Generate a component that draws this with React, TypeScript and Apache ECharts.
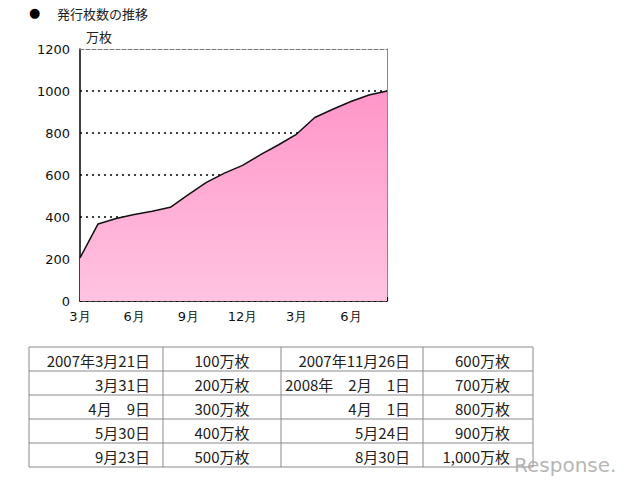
import React, { useEffect, useRef } from 'react';
import * as echarts from 'echarts';

// ---- chart data ----
const months = ['3月', '4月', '5月', '6月', '7月', '8月', '9月', '10月', '11月', '12月', '1月', '2月', '3月', '4月', '5月', '6月', '7月', '8月'];
const issued = [205, 367, 393, 412, 427, 446, 507, 565, 609, 646, 697, 744, 795, 874, 913, 950, 981, 1000];
const yMin = 0;
const yMax = 1200;
const yStep = 200;

// ---- table data ----
const leftDates = ['2007年3月21日', '3月31日', '4月　9日', '5月30日', '9月23日'];
const leftCounts = ['100万枚', '200万枚', '300万枚', '400万枚', '500万枚'];
const rightDates = ['2007年11月26日', '2008年　2月　1日', '4月　1日', '5月24日', '8月30日'];
const rightCounts = ['600万枚', '700万枚', '800万枚', '900万枚', '1,000万枚'];

const titleText = '発行枚数の推移';
const unitText = '万枚';

export default function App() {
  const ref = useRef<HTMLDivElement>(null);

  useEffect(() => {
    if (!ref.current) return;
    const chart = echarts.init(ref.current, undefined, { renderer: 'svg' });

    const tX = 29, tY = 347, rowH = 24, tRight = 533;
    const colX = [29, 163, 281, 423, 533];
    const lineStyle = { stroke: '#8a8a8a', lineWidth: 1 };
    const tableEls: any[] = [];
    for (let i = 0; i <= leftDates.length; i++) {
      tableEls.push({ type: 'line', shape: { x1: tX, y1: tY + i * rowH, x2: tRight, y2: tY + i * rowH }, style: lineStyle });
    }
    colX.forEach((x) => {
      tableEls.push({ type: 'line', shape: { x1: x, y1: tY, x2: x, y2: tY + leftDates.length * rowH }, style: lineStyle });
    });
    const tfont = { fontSize: 15, fontFamily: '"Noto Sans CJK JP", sans-serif', fill: '#222', verticalAlign: 'middle' };
    leftDates.forEach((d, i) => {
      const cy = tY + i * rowH + rowH / 2 + 1;
      tableEls.push({ type: 'text', x: 150, y: cy, style: { ...tfont, text: d, align: 'right' } });
      tableEls.push({ type: 'text', x: 222, y: cy, style: { ...tfont, text: leftCounts[i], align: 'center' } });
      tableEls.push({ type: 'text', x: 410, y: cy, style: { ...tfont, text: rightDates[i], align: 'right' } });
      tableEls.push({ type: 'text', x: 510, y: cy, style: { ...tfont, text: rightCounts[i], align: 'right' } });
    });

    chart.setOption({
      animation: false,
      backgroundColor: '#ffffff',
      grid: { left: 80, top: 49, width: 307, height: 252, containLabel: false },
      xAxis: [
        {
          type: 'category',
          data: months,
          boundaryGap: false,
          axisLine: { lineStyle: { color: '#000', width: 1.5 } },
          axisTick: { show: true, inside: true, length: 4, interval: 0, lineStyle: { color: '#000', width: 1.2 } },
          axisLabel: { interval: 2, color: '#111', fontSize: 13, margin: 9, fontFamily: '"DejaVu Sans", sans-serif' },
          splitLine: { show: false },
        },
        {
          type: 'category',
          data: months,
          boundaryGap: false,
          position: 'top',
          axisLine: { show: true, onZero: false, lineStyle: { color: '#777', width: 1, type: [4, 2] } },
          axisTick: { show: false },
          axisLabel: { show: false },
          splitLine: { show: false },
        },
      ],
      yAxis: [
        {
          type: 'value',
          min: yMin,
          max: yMax,
          interval: yStep,
          axisLine: { show: true, lineStyle: { color: '#000', width: 1.5 } },
          axisTick: { show: false },
          axisLabel: { color: '#111', fontSize: 13, margin: 10, fontFamily: '"DejaVu Sans", sans-serif', formatter: (v: number) => String(v) },
          splitLine: { show: true, showMaxLine: false, lineStyle: { color: '#000', width: 1.6, type: [2, 4] } },
        },
        {
          type: 'value',
          min: yMin,
          max: yMax,
          interval: yStep,
          position: 'right',
          axisLine: { show: true, onZero: false, lineStyle: { color: '#888', width: 1 } },
          axisTick: { show: false },
          axisLabel: { show: false },
          splitLine: { show: false },
        },
      ],
      series: [
        {
          type: 'line',
          data: issued,
          xAxisIndex: 0,
          yAxisIndex: 0,
          showSymbol: false,
          symbol: 'none',
          lineStyle: { color: '#111', width: 1.5 },
          areaStyle: {
            opacity: 1,
            color: new echarts.graphic.LinearGradient(0, 0, 0, 1, [
              { offset: 0, color: '#ff96c9' },
              { offset: 1, color: '#ffc3e0' },
            ]),
          },
        },
      ],
      graphic: [
        { type: 'text', x: 29, y: 12, style: { text: '●', fontSize: 13, fill: '#000', align: 'left', verticalAlign: 'middle', fontFamily: '"DejaVu Sans", sans-serif' } },
        { type: 'text', x: 57, y: 13, style: { text: titleText, fontSize: 13, fill: '#222', fontFamily: '"Noto Sans CJK JP", sans-serif', verticalAlign: 'middle' } },
        { type: 'text', x: 86, y: 36, style: { text: unitText, fontSize: 13, fill: '#222', fontFamily: '"Noto Sans CJK JP", sans-serif', verticalAlign: 'middle' } },
        ...tableEls,
        { type: 'text', x: 514, y: 465, z: 100, style: { text: 'Response.', fontSize: 20, fill: '#a8a8a8', opacity: 0.85, fontFamily: '"DejaVu Sans", sans-serif', verticalAlign: 'middle' } },
      ],
    });

    return () => chart.dispose();
  }, []);

  return <div ref={ref} style={{ position: 'fixed', left: 0, top: 0, width: 640, height: 489 }} />;
}
